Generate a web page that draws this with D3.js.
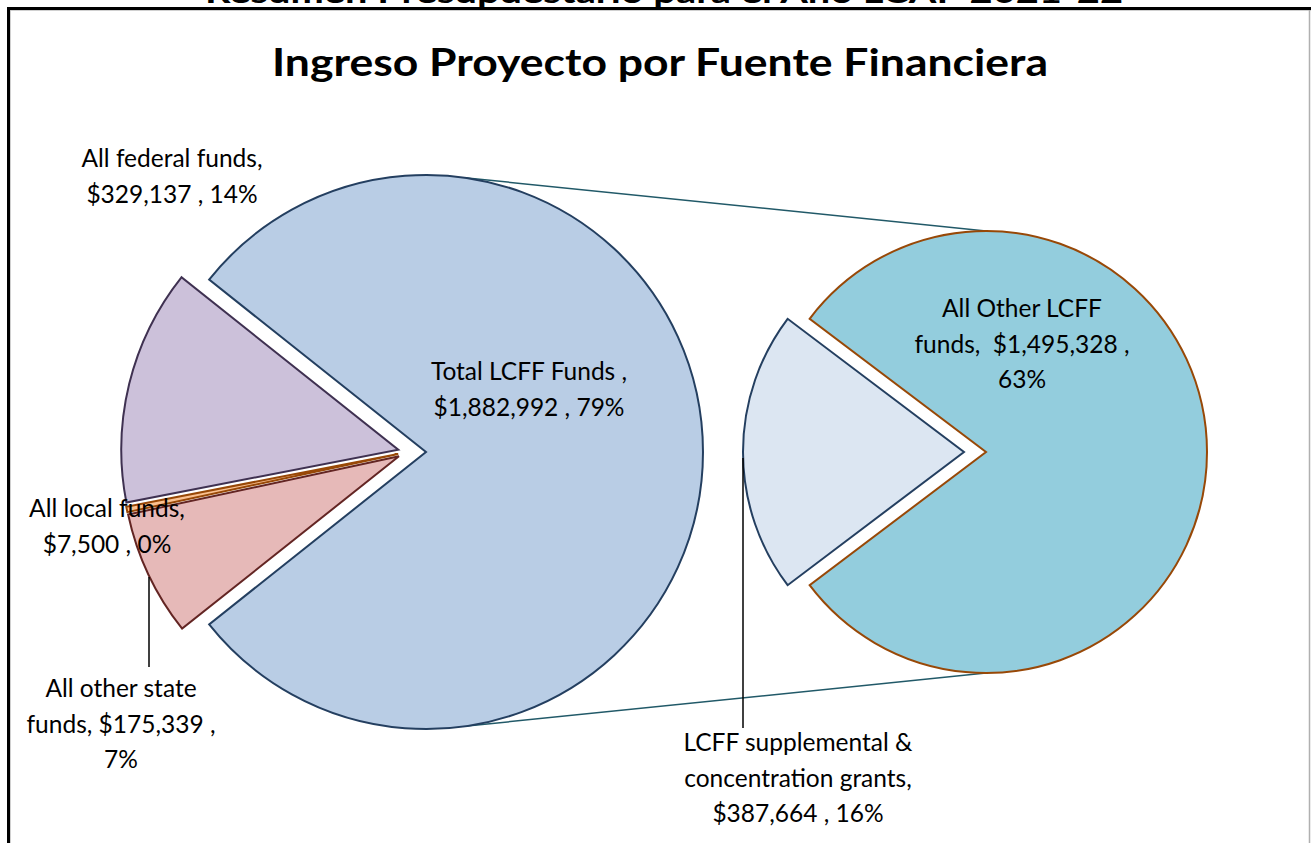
<!DOCTYPE html>
<html>
<head>
<meta charset="utf-8">
<script src="https://cdn.jsdelivr.net/npm/d3@7"></script>
<style>
  body { margin: 0; background: #fff; }
  svg { display: block; }
  text { font-family: Lato, "Open Sans", sans-serif; fill: #000; }
</style>
</head>
<body>
<div id="chart"></div>
<script>
// main pie (Total LCFF gets split into the second pie)
const mainNames  = ['Total LCFF Funds', 'All other state funds', 'All local funds', 'All federal funds'];
const mainValues = [1882992, 175339, 7500, 329137];
const mainPct    = ['79%', '7%', '0%', '14%'];

// second pie, the breakdown of Total LCFF
const subNames  = ['All Other LCFF funds', 'LCFF supplemental & concentration grants'];
const subValues = [1495328, 387664];
const subPct    = ['63%', '16%'];

const W = 1311, H = 843;

const svg = d3.select('#chart').append('svg')
    .attr('width', W)
    .attr('height', H);

// frame + the cut off page heading
svg.append('text')
    .attr('x', 205).attr('y', 2.5)
    .attr('textLength', 918).attr('lengthAdjust', 'spacingAndGlyphs')
    .style('font-size', '30px').style('font-weight', 'bold')
    .text('Resumen Presupuestario para el Año LCAP 2021-22');

svg.append('line').attr('x1', 8).attr('x2', W).attr('y1', 10.2).attr('y2', 10.2)
    .attr('stroke', '#bbb').attr('stroke-width', 1);
svg.append('line').attr('x1', 10.2).attr('x2', 10.2).attr('y1', 10).attr('y2', H)
    .attr('stroke', '#bbb').attr('stroke-width', 1);
svg.append('line').attr('x1', 7.5).attr('x2', W).attr('y1', 8.5).attr('y2', 8.5)
    .attr('stroke', '#000').attr('stroke-width', 3);
svg.append('line').attr('x1', 8.5).attr('x2', 8.5).attr('y1', 7).attr('y2', H)
    .attr('stroke', '#000').attr('stroke-width', 3);
svg.append('line').attr('x1', 1309.5).attr('x2', 1309.5).attr('y1', 10).attr('y2', H)
    .attr('stroke', '#b0b0b0').attr('stroke-width', 1.5);

svg.append('text')
    .attr('x', 660).attr('y', 76)
    .attr('text-anchor', 'middle')
    .attr('textLength', 776).attr('lengthAdjust', 'spacingAndGlyphs')
    .style('font-size', '38px').style('font-weight', 'bold')
    .text('Ingreso Proyecto por Fuente Financiera');

// ---- first pie
const c1 = {x: 426, y: 452, r: 277};
const fills1   = ['#B9CDE5', '#E6B9B8', '#FAC090', '#CCC1DA'];
const strokes1 = ['#243F60', '#632523', '#984807', '#3F3151'];

const total1 = d3.sum(mainValues);
const split = mainValues[0] / total1;
const pie1 = d3.pie().sort(null).value(d => d)
    .startAngle(Math.PI / 2 - split * Math.PI)
    .endAngle(Math.PI / 2 - split * Math.PI + 2 * Math.PI);
const arcs1 = pie1(mainValues);
const arc1 = d3.arc().innerRadius(0).outerRadius(c1.r);

// connector lines to the second pie (drawn first, under the pies)
const c2 = {x: 986, y: 452, r: 221};
const la = 8 * Math.PI / 180;
svg.append('line')
    .attr('x1', c1.x + c1.r * Math.sin(la)).attr('y1', c1.y - c1.r * Math.cos(la))
    .attr('x2', c2.x).attr('y2', c2.y - c2.r)
    .attr('stroke', '#215968').attr('stroke-width', 1.5);
svg.append('line')
    .attr('x1', c1.x + c1.r * Math.sin(la)).attr('y1', c1.y + c1.r * Math.cos(la))
    .attr('x2', c2.x).attr('y2', c2.y + c2.r)
    .attr('stroke', '#215968').attr('stroke-width', 1.5);

const g1 = svg.append('g').attr('transform', `translate(${c1.x},${c1.y})`);
g1.selectAll('path')
    .data(arcs1)
    .join('path')
    .attr('d', arc1)
    .attr('transform', (d, i) => {
        if (i === 0) return null;
        // the small slices are pushed out to the left, plus a bit along their own bisector
        const mid = (d.startAngle + d.endAngle) / 2;
        const dx = -18 + 10 * Math.sin(mid);
        const dy = -10 * Math.cos(mid);
        return `translate(${dx},${dy})`;
    })
    .attr('fill', (d, i) => fills1[i])
    .attr('stroke', (d, i) => strokes1[i])
    .attr('stroke-width', 2)
    .attr('stroke-linejoin', 'miter');

// ---- second pie
const fills2   = ['#93CDDD', '#DCE6F2'];
const strokes2 = ['#984807', '#243F60'];
const total2 = d3.sum(subValues);
const subFrac = subValues[1] / total2;
const pie2 = d3.pie().sort(null).value(d => d)
    .startAngle(1.5 * Math.PI + subFrac * Math.PI)
    .endAngle(1.5 * Math.PI + subFrac * Math.PI + 2 * Math.PI);
const arcs2 = pie2(subValues);
const arc2 = d3.arc().innerRadius(0).outerRadius(c2.r);

const g2 = svg.append('g').attr('transform', `translate(${c2.x},${c2.y})`);
g2.selectAll('path')
    .data(arcs2)
    .join('path')
    .attr('d', arc2)
    .attr('transform', (d, i) => {
        if (i === 0) return null;
        const mid = (d.startAngle + d.endAngle) / 2;
        return `translate(${22 * Math.sin(mid)},${-22 * Math.cos(mid)})`;
    })
    .attr('fill', (d, i) => fills2[i])
    .attr('stroke', (d, i) => strokes2[i])
    .attr('stroke-width', 2);

// ---- leader lines
const leaders = [
    [149, 577, 149, 667],
    [743, 458, 743, 728]
];
leaders.forEach(l => {
    svg.append('line')
        .attr('x1', l[0]).attr('y1', l[1]).attr('x2', l[2]).attr('y2', l[3])
        .attr('stroke', '#000').attr('stroke-width', 1.5);
});

// ---- data labels
const fmt = d3.format(',');
const labels = [
    {x: 529,  y: 380, lines: [mainNames[0] + ' ,', '$' + fmt(mainValues[0]) + ' , ' + mainPct[0]]},
    {x: 121,  y: 697, lines: ['All other state', 'funds, $' + fmt(mainValues[1]) + ' ,', mainPct[1]]},
    {x: 107,  y: 517, lines: [mainNames[2] + ',', '$' + fmt(mainValues[2]) + ' , ' + mainPct[2]]},
    {x: 172,  y: 167, lines: [mainNames[3] + ',', '$' + fmt(mainValues[3]) + ' , ' + mainPct[3]]},
    {x: 1022, y: 317, lines: ['All Other LCFF', 'funds,  $' + fmt(subValues[0]) + ' ,', subPct[0]]},
    {x: 798,  y: 751, lines: ['LCFF supplemental &', 'concentration grants,', '$' + fmt(subValues[1]) + ' , ' + subPct[1]]}
];

labels.forEach(lb => {
    const t = svg.append('text')
        .attr('text-anchor', 'middle')
        .style('font-size', '24.5px')
        .style('white-space', 'pre');
    lb.lines.forEach((s, k) => {
        t.append('tspan')
            .attr('x', lb.x)
            .attr('y', lb.y + k * 35.5)
            .text(s);
    });
});
</script>
</body>
</html>
